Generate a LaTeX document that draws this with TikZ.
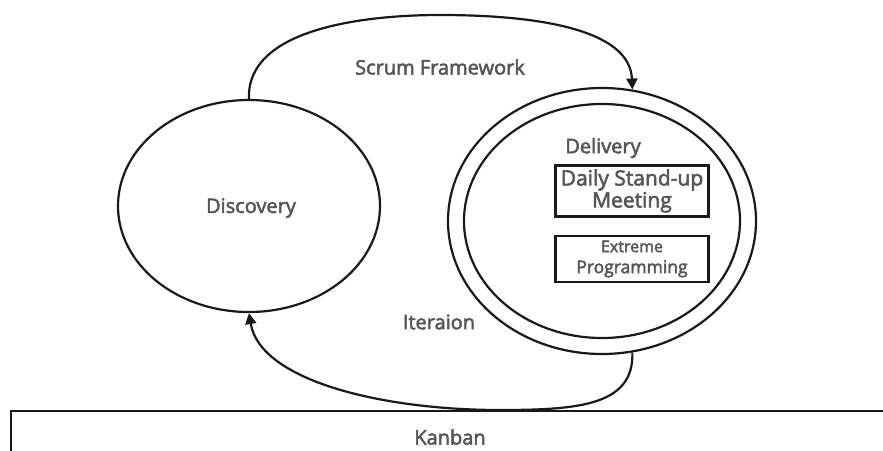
\documentclass[tikz,border=0pt]{standalone}
\usepackage{fontspec}
\setmainfont{Open Sans}
\newfontfamily\lblfont{Open Sans}[FakeBold=2.5]
\usetikzlibrary{shapes.geometric,arrows.meta}
\definecolor{txt}{HTML}{555555}
\begin{document}
\begin{tikzpicture}[x=1pt,y=-1pt,
  line/.style={line width=2.2pt,draw=black!90},
  lbl/.style={text=txt,font=\lblfont\fontsize{20}{24}\selectfont},
  ell/.style={line,ellipse,inner sep=0pt},
  boxn/.style={line,rectangle,minimum width=153pt,align=center,text=txt,inner sep=0pt},
  arr/.style={line,-{Triangle[length=11pt,width=11pt]}}]
\useasboundingbox (0,0) rectangle (883,450);
\clip (0,0) rectangle (883,450);
\node[ell,minimum width=262pt,minimum height=212pt] (disc) at (249,206) {};
\node[lbl] at (251,208) {Discovery};
\node[ell,minimum width=308pt,minimum height=266pt] (deliv) at (602,221) {};
\node[ell,minimum width=276pt,minimum height=234pt] (inner) at (602,221) {};
\node[lbl] at (603,148) {Delivery};
\node[boxn,minimum height=51pt,font=\lblfont\fontsize{21}{22}\selectfont] (b1) at (632,191) {Daily Stand-up\\Meeting};
\node[boxn,minimum height=46pt,font=\lblfont\fontsize{16}{21}\selectfont] (b2) at (632,259) {Extreme\\{\fontsize{17.5}{20}\selectfont Programming}};
\node[lbl] at (440,67) {Scrum Framework};
\node[lbl] at (439,322) {Iteraion};
\node[line,rectangle,minimum width=900pt,minimum height=60pt,anchor=north west,inner sep=0pt] (kanban) at (10,410) {};
\node[lbl] at (450,437) {Kanban};
\coordinate (top) at (440,15);
\coordinate (bot) at (500,410);
\draw[line] (disc.north) .. controls (246,30) and (360,15) .. (top);
\draw[arr] (top) .. controls (540,15) and (630,30) .. (deliv.77);
\draw[line] (deliv.283) .. controls (634,405) and (580,410) .. (bot);
\draw[arr] (bot) .. controls (380,410) and (260,380) .. (disc.south);
\end{tikzpicture}
\end{document}
